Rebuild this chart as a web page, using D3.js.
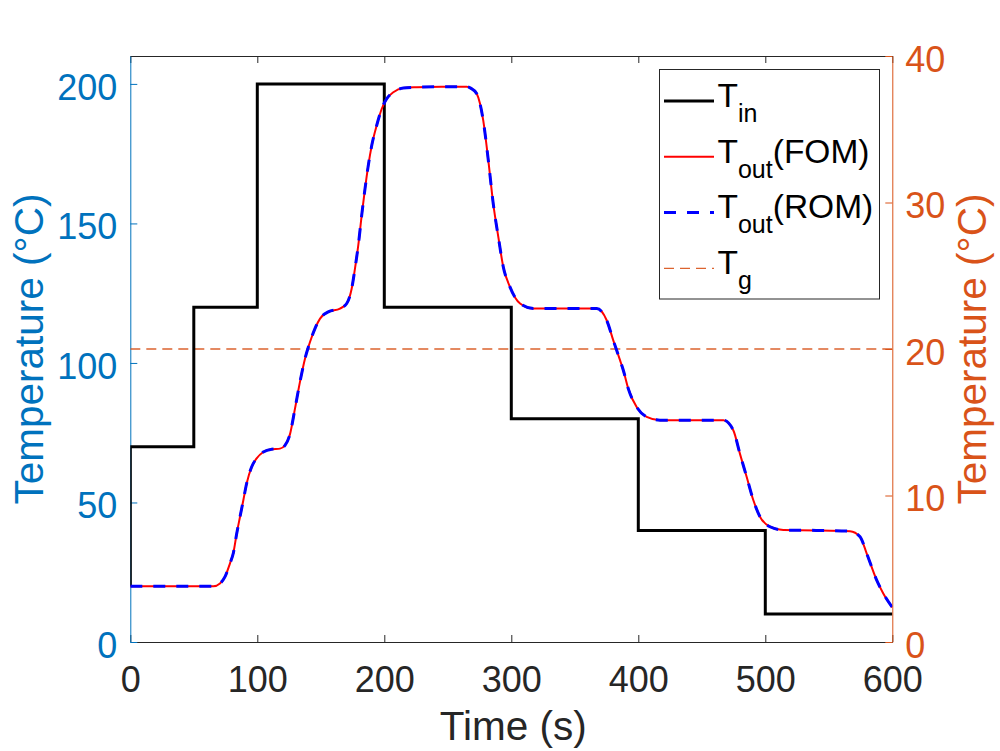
<!DOCTYPE html>
<html>
<head>
<meta charset="utf-8">
<script src="https://cdn.jsdelivr.net/npm/d3@7"></script>
<style>
	body { margin: 0; background: #fff; }
	svg { display: block; font-family: "Liberation Sans", Arial, Helvetica, sans-serif; }
</style>
</head>
<body>
<div id="render"></div>
<script>
// step input (left axis, degC)
const tinTime = [0, 0, 50, 100, 200, 300, 400, 500, 600];
const tinValue = [20, 70, 120, 200, 120, 80, 40, 10, 10];

// outlet temperature (left axis, degC)
const toutTime = [0, 30, 60, 65.4, 70.6, 74.6, 78.5, 81.1, 83.8, 86.4, 89, 91.6, 95.6, 99.5, 104.7,
	111.3, 117.9, 121.8, 125.7, 129.7, 133.6, 137.6, 141.5, 145.4, 149.4, 155.9, 165.1, 170.4, 174.3,
	176.9, 179.5, 182.2, 184.8, 187.4, 190.1, 194, 198, 201.9, 207.1, 215, 225.5, 245, 265, 268,
	272.8, 277.9, 281.9, 285.8, 289.8, 293.7, 299, 306.9, 317.3, 340, 367.2, 375.1, 380.3, 385.6,
	388.2, 392.1, 398.7, 406.6, 417.1, 440, 467, 474.8, 480, 485.3, 490.6, 495.8, 503.7, 514.2,
	540, 566.7, 574.6, 579.8, 587.7, 592.9, 600];
const toutFOM = [20, 20, 20, 20, 21, 23.4, 28.2, 31.8, 38.9, 44.9, 50.8, 56.8, 62.8, 65.8, 68.1,
	69.1, 69.3, 70.5, 74.4, 83.7, 93.2, 101.6, 107.5, 112.3, 115.9, 118.3, 119.5, 121.3, 126.6,
	133.8, 142.1, 152.9, 162.4, 170.8, 177.9, 185.1, 191.1, 194.7, 197, 198.5, 198.8, 199, 199, 198.5,
	196.5, 186.9, 172.6, 157, 145.1, 134.4, 127.2, 121.3, 119.5, 119.5, 119.5, 115.3, 108.1, 101,
	97.4, 90.8, 84.2, 80.7, 79.5, 79.5, 79.5, 75.9, 67.5, 59.2, 50.8, 44.9, 41.3, 40.1,
	40, 39.7, 37.7, 31.8, 22.2, 17.4, 12.4];
// ROM sits on top of FOM everywhere
const toutROM = toutFOM.slice();

// glass transition, right axis
const tgValue = 20;

const xTicks = [0, 100, 200, 300, 400, 500, 600];
const yLeftTicks = [0, 50, 100, 150, 200];
const yRightTicks = [0, 10, 20, 30, 40];

const legendItems = [
	{ main: 'T', sub: 'in', tail: '', color: '#000', width: 3, dash: null },
	{ main: 'T', sub: 'out', tail: '(FOM)', color: '#ff0000', width: 2, dash: null },
	{ main: 'T', sub: 'out', tail: '(ROM)', color: '#0000ff', width: 3, dash: '12,11' },
	{ main: 'T', sub: 'g', tail: '', color: '#D95319', width: 1.3, dash: '10,6' },
];

const W = 1000, H = 751;
const box = { left: 130.3, right: 892.3, top: 56, bottom: 642 };
const BLUE = '#0072BD', ORANGE = '#D95319', DARK = '#262626';

const attrs = (sel, _attrs)=>{
	for (const i in _attrs) {
		sel.attr(i, _attrs[i]);
	}
	return sel;
};

const svg = d3.select('#render').append('svg');
attrs(svg, { width: W, height: H, viewBox: `0 0 ${W} ${H}` });

const x = d3.scaleLinear().domain([0, 600]).range([box.left, box.right]);
const yL = d3.scaleLinear().domain([0, 210]).range([box.bottom, box.top]);
const yR = d3.scaleLinear().domain([0, 40]).range([box.bottom, box.top]);

svg.append('defs').append('clipPath').attr('id', 'plotclip')
	.append('rect')
	.attr('x', box.left).attr('y', box.top)
	.attr('width', box.right - box.left).attr('height', box.bottom - box.top);

const styleAxis = (g, color, size)=>{
	g.select('.domain').attr('stroke', color).attr('stroke-width', 1);
	g.selectAll('.tick line').attr('stroke', color).attr('stroke-width', 1);
	g.selectAll('.tick text').attr('fill', color).style('font-size', size + 'px');
	g.attr('font-family', null);
};

// axes go below the data (matlab Layer = bottom)
const gx = svg.append('g').attr('transform', `translate(0,${box.bottom})`)
	.call(d3.axisBottom(x).tickValues(xTicks).tickSizeInner(-7).tickSizeOuter(0).tickPadding(24));
styleAxis(gx, DARK, 36);

const gxTop = svg.append('g').attr('transform', `translate(0,${box.top})`)
	.call(d3.axisTop(x).tickValues(xTicks).tickSizeInner(-7).tickSizeOuter(0).tickFormat(''));
styleAxis(gxTop, DARK, 36);

const gyL = svg.append('g').attr('transform', `translate(${box.left},0)`)
	.call(d3.axisLeft(yL).tickValues(yLeftTicks).tickSizeInner(-7).tickSizeOuter(0).tickPadding(13));
styleAxis(gyL, BLUE, 36);
gyL.selectAll('.tick text').attr('dy', '0.42em');

const gyR = svg.append('g').attr('transform', `translate(${box.right},0)`)
	.call(d3.axisRight(yR).tickValues(yRightTicks).tickSizeInner(-7).tickSizeOuter(0).tickPadding(13));
styleAxis(gyR, ORANGE, 36);
gyR.selectAll('.tick text').attr('dy', '0.42em');

// axis titles
svg.append('text')
	.attr('x', (box.left + box.right) / 2 + 2).attr('y', 740)
	.attr('text-anchor', 'middle').attr('fill', DARK)
	.style('font-size', '40.5px').text('Time (s)');

svg.append('text')
	.attr('transform', `translate(43,${(box.top + box.bottom) / 2}) rotate(-90)`)
	.attr('text-anchor', 'middle').attr('fill', BLUE)
	.style('font-size', '40.5px').text('Temperature (°C)');

svg.append('text')
	.attr('transform', `translate(986,${(box.top + box.bottom) / 2}) rotate(-90)`)
	.attr('text-anchor', 'middle').attr('fill', ORANGE)
	.style('font-size', '40.5px').text('Temperature (°C)');

// data
const plot = svg.append('g').attr('clip-path', 'url(#plotclip)');

attrs(plot.append('line'), {
	x1: x(0), x2: x(600), y1: yR(tgValue), y2: yR(tgValue),
	stroke: ORANGE, 'stroke-width': 1.3, 'stroke-dasharray': '10,6', opacity: 0.9,
});

const stepLine = d3.line().x(d => x(d[0])).y(d => yL(d[1])).curve(d3.curveStepAfter);
attrs(plot.append('path'), {
	d: stepLine(d3.zip(tinTime, tinValue)),
	fill: 'none', stroke: '#000', 'stroke-width': 3, 'stroke-linejoin': 'miter',
});

const smooth = d3.line().x(d => x(d[0])).y(d => yL(d[1])).curve(d3.curveMonotoneX);
attrs(plot.append('path'), {
	d: smooth(d3.zip(toutTime, toutFOM)),
	fill: 'none', stroke: '#ff0000', 'stroke-width': 2,
});
attrs(plot.append('path'), {
	d: smooth(d3.zip(toutTime, toutROM)),
	fill: 'none', stroke: '#0000ff', 'stroke-width': 3, 'stroke-dasharray': '12,11',
});

// legend
const leg = { x: 659.5, y: 69.5, w: 220, h: 229.5, rowBase: 106.7, rowStep: 55.8 };
attrs(svg.append('rect'), {
	x: leg.x, y: leg.y, width: leg.w, height: leg.h,
	fill: '#fff', stroke: DARK, 'stroke-width': 1,
});

legendItems.forEach((it, i)=>{
	const base = leg.rowBase + i * leg.rowStep;
	attrs(svg.append('line'), {
		x1: 664, x2: 714, y1: base - 5.8, y2: base - 5.8,
		stroke: it.color, 'stroke-width': it.width,
		'stroke-dasharray': it.dash ? it.dash : null,
		opacity: it.sub === 'g' ? 0.9 : null,
	});
	const t = svg.append('text')
		.attr('x', 717.5).attr('y', base)
		.attr('fill', '#000').style('font-size', '33.5px');
	t.append('tspan').text(it.main);
	t.append('tspan').attr('dy', 15).style('font-size', '25px').text(it.sub);
	if (it.tail) {
		t.append('tspan').attr('dy', -15).text(it.tail);
	}
});
</script>
</body>
</html>
